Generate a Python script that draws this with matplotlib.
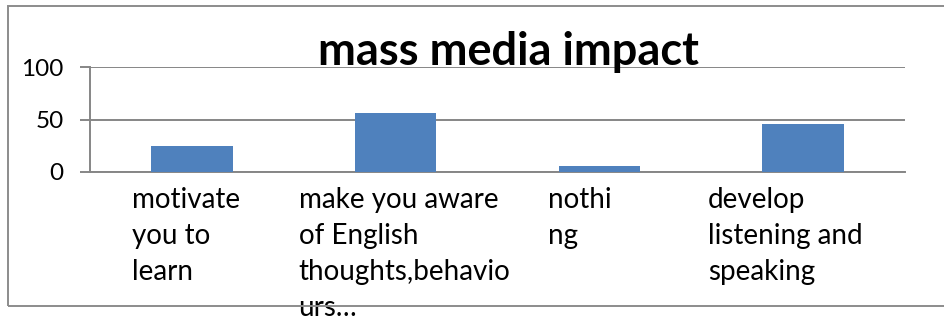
import matplotlib.pyplot as plt
from matplotlib.patches import Rectangle
from matplotlib.transforms import offset_copy

categories = [
    "motivate\nyou to\nlearn",
    "make you aware\nof English\nthoughts,behavio\nurs…",
    "nothi\nng",
    "develop\nlistening and\nspeaking",
]
values = [25, 56, 6, 46]
y_ticks = [0, 50, 100]

W, H = 944, 320
fig = plt.figure(figsize=(W / 100, H / 100), dpi=100)
plt.rcParams['font.family'] = ['Lato', 'DejaVu Sans']


def fx(px):
    return px / W


def fy(px):
    return 1 - px / H


# chart frame (runs off the right edge)
fig.patches.append(Rectangle((fx(8), fy(306)), fx(960) - fx(8), fy(6) - fy(306),
                             transform=fig.transFigure, fill=False,
                             edgecolor='#8c8c8c', linewidth=1.4))

ax = fig.add_axes([fx(90), fy(172), fx(905) - fx(90), fy(67) - fy(172)])
x = range(len(values))
ax.bar(x, values, width=0.4, color='#4f81bd', zorder=3)
ax.set_xlim(-0.5, len(values) - 0.5)
ax.set_ylim(0, 100)
ax.set_yticks(y_ticks)
ax.grid(axis='y', color='#868686', linewidth=1.4, zorder=0)
for s in ['top', 'right']:
    ax.spines[s].set_visible(False)
ax.spines['left'].set_color('#868686')
ax.spines['bottom'].set_color('#868686')
ax.spines['left'].set_linewidth(1.4)
ax.spines['bottom'].set_linewidth(1.4)
ax.tick_params(axis='y', length=7, width=1.4, color='#868686', labelsize=17.5, pad=12)
ax.set_xticks([])

# wrapped category text, left aligned inside each slot
label_shift = [-60, -97, -51, -95]  # px from slot centre
for i, (lab, dx) in enumerate(zip(categories, label_shift)):
    tr = offset_copy(ax.get_xaxis_transform(), fig=fig, x=dx * 0.72, y=-11, units='points')
    ax.text(i, 0, lab, transform=tr, ha='left', va='top', fontsize=20,
            linespacing=1.47, clip_on=False)

fig.text(fx(318), fy(65), "mass media impact", ha='left', va='baseline',
         fontsize=32.5, fontweight='bold')

fig.savefig('out.png', dpi=100)
